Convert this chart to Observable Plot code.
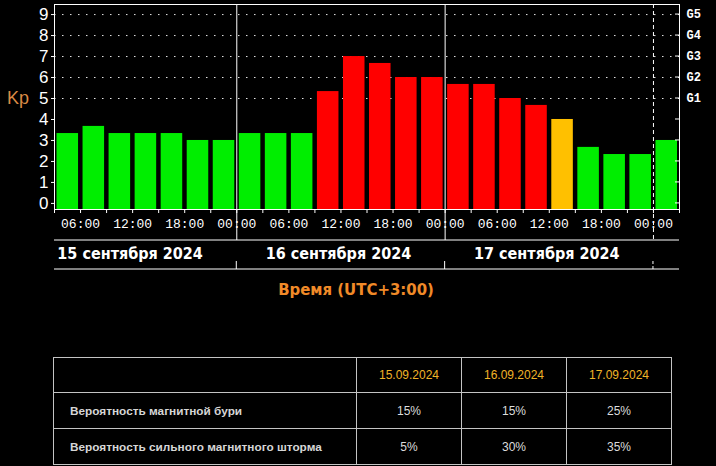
<!DOCTYPE html>
<html><head><meta charset="utf-8">
<script src="https://cdn.jsdelivr.net/npm/d3@7"></script>
<script src="https://cdn.jsdelivr.net/npm/@observablehq/plot@0.6"></script>
<style>
html,body{margin:0;padding:0;background:#000;width:716px;height:466px;overflow:hidden;}
#chart{position:absolute;left:0;top:0;}
#tbl{position:absolute;left:53px;top:357px;border-collapse:collapse;font-family:"Liberation Sans",Arial,sans-serif;font-size:12px;color:#dcdcdc;}
#tbl td{border:1px solid #c4c4c4;padding:0;text-align:center;}
#tbl tr{height:36px;}
#tbl tr:first-child{height:35px;}
#tbl td.lab{text-align:left;padding-left:16px;font-weight:bold;font-size:11.8px;color:#d6d6d6;}
#tbl td.hd{color:#f0b428;}
</style></head><body>
<div id="chart"></div>
<table id="tbl"></table>
<script>
// ---- data ----
const kpStart = [
  "2024-09-15T03:00Z","2024-09-15T06:00Z","2024-09-15T09:00Z","2024-09-15T12:00Z","2024-09-15T15:00Z","2024-09-15T18:00Z","2024-09-15T21:00Z",
  "2024-09-16T00:00Z","2024-09-16T03:00Z","2024-09-16T06:00Z","2024-09-16T09:00Z","2024-09-16T12:00Z","2024-09-16T15:00Z","2024-09-16T18:00Z","2024-09-16T21:00Z",
  "2024-09-17T00:00Z","2024-09-17T03:00Z","2024-09-17T06:00Z","2024-09-17T09:00Z","2024-09-17T12:00Z","2024-09-17T15:00Z","2024-09-17T18:00Z","2024-09-17T21:00Z",
  "2024-09-18T00:00Z"
];
const kpValues = [
  3.33,3.67,3.33,3.33,3.33,3.00,3.00,
  3.33,3.33,3.33,5.33,7.00,6.67,6.00,6.00,
  5.67,5.67,5.00,4.67,4.00,2.67,2.33,2.33,
  3.00
];
const dayStarts = ["2024-09-16T00:00Z","2024-09-17T00:00Z"];
const forecastEdge = ["2024-09-18T00:00Z"];
const dayNoons = ["2024-09-15T12:00Z","2024-09-16T12:00Z","2024-09-17T12:00Z"];
const dayLabels = ["15 сентября 2024","16 сентября 2024","17 сентября 2024"];
const yTicks = [0,1,2,3,4,5,6,7,8,9];
const gTicks = [5,6,7,8,9];
const gLabels = ["G1","G2","G3","G4","G5"];
const xDomain = ["2024-09-15T03:00Z","2024-09-18T03:00Z"];
const yDomain = [-0.29, 9.48];
const axisTitle = "Время (UTC+3:00)";
const yTitle = "Kp";
const tableDates = ["15.09.2024","16.09.2024","17.09.2024"];
const rowLabels = ["Вероятность магнитной бури","Вероятность сильного магнитного шторма"];
const stormProb = ["15%","15%","25%"];
const strongStormProb = ["5%","30%","35%"];

const GREEN = "#00ee00", ORANGE = "#ffc000", RED = "#ff0000";
const bars = kpStart.map((s, i) => {
  const start = new Date(s);
  return {start, end: d3.utcHour.offset(start, 3), kp: kpValues[i]};
});
const colorOf = v => v >= 4.5 ? RED : v >= 3.9 ? ORANGE : GREEN;

const mono = "'Liberation Mono','DejaVu Sans Mono',monospace";
const sans = "'Liberation Sans',Arial,sans-serif";
const cond = "'DejaVu Sans Condensed','DejaVu Sans',sans-serif";

const chart = Plot.plot({
  width: 716, height: 300,
  marginLeft: 54, marginRight: 37, marginTop: 4, marginBottom: 91,
  style: {background: "#000", color: "white", overflow: "visible"},
  x: {type: "utc", domain: xDomain.map(d => new Date(d))},
  y: {domain: yDomain},
  marks: [
    Plot.ruleY(gTicks, {stroke: "white", strokeDasharray: "1.5,6.5", strokeOpacity: 0.9}),
    Plot.rect(bars, {x1: "start", x2: "end", y1: yDomain[0], y2: "kp", fill: d => colorOf(d.kp), insetLeft: 2.5, insetRight: 2}),
    Plot.ruleX(dayStarts.map(d => new Date(d)), {stroke: "white", insetBottom: -31}),
    Plot.ruleX(forecastEdge.map(d => new Date(d)), {stroke: "white", strokeDasharray: "4,3", insetBottom: -31}),
    Plot.frame({stroke: "white"}),
    Plot.axisX({ticks: d3.utcHour.every(3), tickSize: 4, tickFormat: () => "", stroke: "white"}),
    Plot.axisX({ticks: d3.utcHour.every(6), tickSize: 0, tickPadding: 9, tickFormat: d3.utcFormat("%H:%M"),
      fill: "white", fontSize: 13, fontFamily: mono, label: null}),
    Plot.axisY({ticks: yTicks, tickSize: 3, tickPadding: 3, fill: "white", stroke: "white", fontSize: 17, fontFamily: sans, label: null}),
    Plot.axisY({anchor: "right", ticks: gTicks, tickSize: 0, tickPadding: 7, tickFormat: d => gLabels[gTicks.indexOf(d)],
      fill: "white", fontSize: 12, fontWeight: "bold", fontFamily: mono, label: null})
  ]
});
document.getElementById("chart").appendChild(chart);

// decorations driven by the plot's scales
const xs = chart.scale("x"), ys = chart.scale("y");
const svg = d3.select(chart);
const xL = xs.range[0], xR = xs.range[1];
const g = svg.append("g");
g.selectAll("line.rt").data(yTicks).join("line")
  .attr("x1", xR - 4).attr("x2", xR).attr("y1", d => ys.apply(d)).attr("y2", d => ys.apply(d))
  .attr("stroke", "white");
[240, 269].forEach(y => g.append("line").attr("x1", xL).attr("x2", xR).attr("y1", y).attr("y2", y).attr("stroke", "white"));
dayStarts.forEach(d => g.append("line").attr("x1", xs.apply(new Date(d))).attr("x2", xs.apply(new Date(d)))
  .attr("y1", 261).attr("y2", 269).attr("stroke", "white"));
forecastEdge.forEach(d => g.append("line").attr("x1", xs.apply(new Date(d))).attr("x2", xs.apply(new Date(d)))
  .attr("y1", 261).attr("y2", 269).attr("stroke", "white").attr("stroke-dasharray", "3,2"));
g.selectAll("text.day").data(dayNoons).join("text")
  .attr("x", (d) => xs.apply(new Date(d)) - 2).attr("y", 259)
  .attr("text-anchor", "middle").attr("fill", "white")
  .style("font", "bold 16px " + cond).style("font-stretch", "condensed")
  .text((d, i) => dayLabels[i]);
g.append("text").attr("x", 356).attr("y", 295).attr("text-anchor", "middle")
  .attr("fill", "#f08a28").style("font", "bold 16.6px " + cond).style("font-stretch", "condensed").text(axisTitle);
g.append("text").attr("x", 18).attr("y", ys.apply(5) + 6).attr("text-anchor", "middle")
  .attr("fill", "#d98a45").style("font", "18px " + sans).text(yTitle);

// table
const tbl = d3.select("#tbl");
const hdr = tbl.append("tr");
hdr.append("td").style("width", "302px");
tableDates.forEach(d => hdr.append("td").attr("class", "hd").style("width", "104px").text(d));
[stormProb, strongStormProb].forEach((vals, r) => {
  const tr = tbl.append("tr");
  tr.append("td").attr("class", "lab").text(rowLabels[r]);
  vals.forEach(v => tr.append("td").text(v));
});
</script>
</body></html>
